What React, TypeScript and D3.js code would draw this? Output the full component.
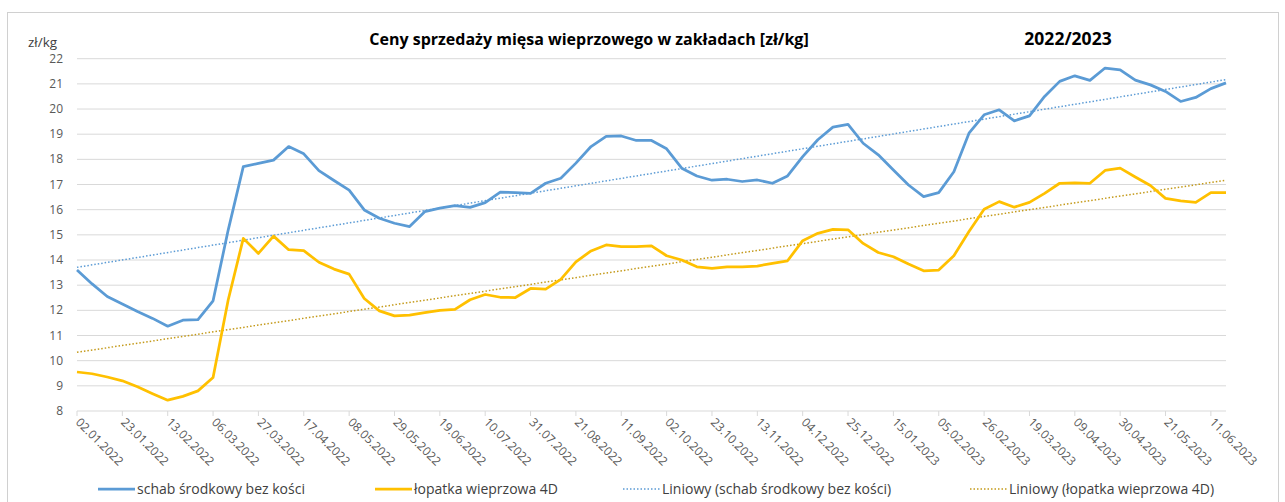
import React, { useRef, useEffect } from 'react';
import * as d3 from 'd3';

// tygodniowe notowania od 02.01.2022 do 18.06.2023
const schab = [
  13.6, 13.05, 12.55, 12.25, 11.95, 11.68, 11.37, 11.61, 11.63, 12.38,
  15.19, 17.71, 17.84, 17.97, 18.51, 18.22, 17.55, 17.16, 16.78, 15.99,
  15.66, 15.46, 15.33, 15.92, 16.06, 16.16, 16.09, 16.28, 16.7, 16.68,
  16.65, 17.05, 17.25, 17.85, 18.51, 18.91, 18.93, 18.75, 18.75, 18.42,
  17.65, 17.34, 17.17, 17.21, 17.12, 17.18, 17.05, 17.34, 18.11, 18.78,
  19.28, 19.39, 18.64, 18.18, 17.58, 16.98, 16.52, 16.68, 17.51, 19.04,
  19.77, 19.97, 19.53, 19.73, 20.5, 21.1, 21.32, 21.14, 21.63, 21.56,
  21.15, 20.96, 20.7, 20.3, 20.46, 20.81, 21.04
];

const lopatka = [
  9.55, 9.48, 9.35, 9.2, 8.96, 8.69, 8.43, 8.58, 8.8, 9.33,
  12.41, 14.86, 14.26, 14.95, 14.41, 14.37, 13.91, 13.64, 13.44, 12.47,
  11.98, 11.78, 11.81, 11.91, 12.0, 12.04, 12.42, 12.63, 12.52, 12.51,
  12.87, 12.84, 13.23, 13.93, 14.36, 14.6, 14.53, 14.53, 14.56, 14.17,
  14.0, 13.73, 13.67, 13.73, 13.73, 13.76, 13.87, 13.97, 14.77, 15.06,
  15.22, 15.2, 14.66, 14.3, 14.13, 13.84, 13.57, 13.6, 14.17, 15.13,
  16.02, 16.32, 16.1, 16.29, 16.65, 17.05, 17.07, 17.05, 17.56, 17.65,
  17.3, 16.96, 16.45, 16.35, 16.29, 16.68, 16.68
];

// etykiety co trzeci tydzień
const tickLabels = [
  '02.01.2022', '23.01.2022', '13.02.2022', '06.03.2022', '27.03.2022', '17.04.2022',
  '08.05.2022', '29.05.2022', '19.06.2022', '10.07.2022', '31.07.2022', '21.08.2022',
  '11.09.2022', '02.10.2022', '23.10.2022', '13.11.2022', '04.12.2022', '25.12.2022',
  '15.01.2023', '05.02.2023', '26.02.2023', '19.03.2023', '09.04.2023', '30.04.2023',
  '21.05.2023', '11.06.2023'
];
const tickStep = 3;

const yTicks = [8, 9, 10, 11, 12, 13, 14, 15, 16, 17, 18, 19, 20, 21, 22];

const series = [
  { name: 'schab środkowy bez kości', values: schab, color: '#5B9BD5', trendColor: '#5B9BD5' },
  { name: 'łopatka wieprzowa 4D', values: lopatka, color: '#FFC000', trendColor: '#C49A1A' }
];

const FONT = '"Open Sans", "Liberation Sans", sans-serif';

// prosta regresja liniowa (linia trendu jak w Excelu)
function linearFit(values: number[]) {
  const n = values.length;
  const mx = d3.mean(values.map((_, i) => i))!;
  const my = d3.mean(values)!;
  let sxy = 0;
  let sxx = 0;
  values.forEach((v, i) => {
    sxy += (i - mx) * (v - my);
    sxx += (i - mx) * (i - mx);
  });
  const slope = sxy / sxx;
  const intercept = my - slope * mx;
  return [0, n - 1].map(i => ({ i, v: intercept + slope * i }));
}

const PriceChart: React.FC<{ width?: number; height?: number }> = ({ width = 1285, height = 502 }) => {
  const svgRef = useRef<SVGSVGElement>(null);

  useEffect(() => {
    if (!svgRef.current) return;
    const svg = d3.select(svgRef.current);
    svg.selectAll('*').remove();

    const left = 77;
    const right = 1226;
    const top = 58.7;
    const bottom = 411;

    const x = d3.scaleLinear().domain([0, schab.length - 1]).range([left, right]);
    const y = d3.scaleLinear().domain([8, 22]).range([bottom, top]);

    // ramka wykresu
    svg.append('rect')
      .attr('x', 7.5).attr('y', 12.5)
      .attr('width', 1271).attr('height', 500)
      .attr('fill', '#fff')
      .attr('stroke', '#D0D0D0');

    // siatka
    svg.append('g')
      .selectAll('line')
      .data(yTicks.filter(t => t > 8))
      .join('line')
      .attr('x1', left).attr('x2', right)
      .attr('y1', d => y(d)).attr('y2', d => y(d))
      .attr('stroke', '#D9D9D9')
      .attr('stroke-width', 1);

    // oś Y
    svg.append('g')
      .selectAll('text')
      .data(yTicks)
      .join('text')
      .attr('x', 63)
      .attr('y', d => y(d) + 4)
      .attr('text-anchor', 'end')
      .attr('font-family', FONT)
      .attr('font-size', '12px')
      .attr('fill', '#595959')
      .text(d => d);

    svg.append('text')
      .attr('x', 28).attr('y', 47)
      .attr('font-family', FONT)
      .attr('font-size', '13.5px')
      .attr('fill', '#404040')
      .text('zł/kg');

    // oś X
    svg.append('line')
      .attr('x1', left).attr('x2', right)
      .attr('y1', bottom).attr('y2', bottom)
      .attr('stroke', '#D9D9D9');

    const xt = svg.append('g');
    tickLabels.forEach((label, k) => {
      const px = x(k * tickStep);
      xt.append('line')
        .attr('x1', px).attr('x2', px)
        .attr('y1', bottom).attr('y2', bottom + 5)
        .attr('stroke', '#D9D9D9');
      xt.append('text')
        .attr('transform', `translate(${px - 2},${bottom + 12}) rotate(45)`)
        .attr('font-family', FONT)
        .attr('font-size', '12px')
        .attr('fill', '#595959')
        .text(label);
    });

    // linie trendu
    series.forEach(s => {
      const fit = linearFit(s.values);
      svg.append('line')
        .attr('x1', x(fit[0].i)).attr('y1', y(fit[0].v))
        .attr('x2', x(fit[1].i)).attr('y2', y(fit[1].v))
        .attr('stroke', s.trendColor)
        .attr('stroke-width', 1.5)
        .attr('stroke-dasharray', '1.5,2');
    });

    // serie
    const line = d3.line<number>()
      .x((_, i) => x(i))
      .y(d => y(d));

    series.forEach(s => {
      svg.append('path')
        .datum(s.values)
        .attr('d', line)
        .attr('fill', 'none')
        .attr('stroke', s.color)
        .attr('stroke-width', 2.75)
        .attr('stroke-linejoin', 'round');
    });

    // tytuł
    svg.append('text')
      .attr('x', 589).attr('y', 45)
      .attr('text-anchor', 'middle')
      .attr('font-family', FONT)
      .attr('font-size', '16px')
      .attr('font-weight', 'bold')
      .attr('fill', '#000')
      .text('Ceny sprzedaży mięsa wieprzowego w zakładach [zł/kg]');

    svg.append('text')
      .attr('x', 1068).attr('y', 45)
      .attr('text-anchor', 'middle')
      .attr('font-family', FONT)
      .attr('font-size', '17.5px')
      .attr('font-weight', 'bold')
      .attr('fill', '#000')
      .text('2022/2023');

    // legenda
    const legendItems = [
      { label: series[0].name, color: series[0].color, dotted: false, x: 98 },
      { label: series[1].name, color: series[1].color, dotted: false, x: 375 },
      { label: `Liniowy (${series[0].name})`, color: series[0].trendColor, dotted: true, x: 623 },
      { label: `Liniowy (${series[1].name})`, color: series[1].trendColor, dotted: true, x: 970 }
    ];
    const ly = 489;
    legendItems.forEach(item => {
      svg.append('line')
        .attr('x1', item.x).attr('x2', item.x + 37)
        .attr('y1', ly).attr('y2', ly)
        .attr('stroke', item.color)
        .attr('stroke-width', item.dotted ? 1.5 : 2.75)
        .attr('stroke-dasharray', item.dotted ? '1.5,2' : null);
      svg.append('text')
        .attr('x', item.x + 39).attr('y', ly + 5)
        .attr('font-family', FONT)
        .attr('font-size', '14px')
        .attr('fill', '#404040')
        .text(item.label);
    });
  }, [width, height]);

  return <svg ref={svgRef} width={width} height={height} style={{ display: 'block' }} />;
};

export default function App() {
  return (
    <div style={{ position: 'absolute', left: 0, top: 0, width: 1285, height: 502, overflow: 'hidden' }}>
      <PriceChart />
    </div>
  );
}
